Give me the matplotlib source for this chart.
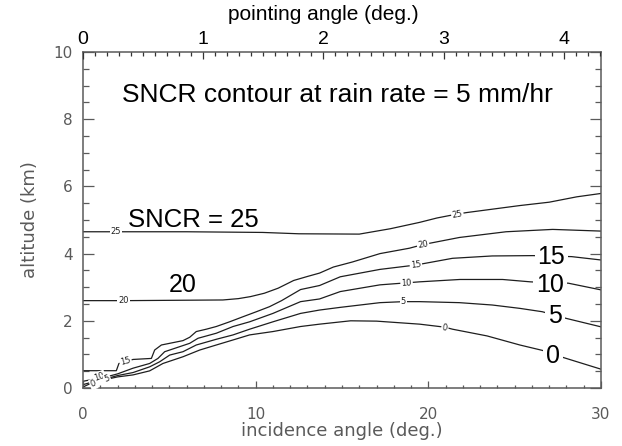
import matplotlib
matplotlib.use("Agg")
import matplotlib.pyplot as plt
from matplotlib.ticker import MultipleLocator

# ---------------- data ----------------
incidence_ticks = [0, 10, 20, 30]
altitude_ticks = [0, 2, 4, 6, 8, 10]
pointing_ticks = [0, 1, 2, 3, 4]
pointing_max = 4.31

c25_x = [0, 2.0, 6.0, 10.4, 12.5, 16.0, 17.8, 19.5, 20.5, 21.6, 22.2, 25.3, 27.0, 28.6, 30]
c25_y = [4.65, 4.65, 4.65, 4.63, 4.59, 4.58, 4.74, 4.93, 5.06, 5.17, 5.22, 5.43, 5.53, 5.69, 5.79]

c20_x = [0, 2.4, 8.1, 9.0, 9.7, 10.5, 11.3, 12.2, 13.0, 13.7, 14.5, 15.6, 17.2, 18.9, 19.7,
         21.8, 24.5, 27.2, 30]
c20_y = [2.6, 2.6, 2.62, 2.66, 2.72, 2.82, 2.97, 3.2, 3.32, 3.42, 3.6, 3.75, 4.0, 4.16, 4.27,
         4.48, 4.65, 4.72, 4.67]

c15_x = [0, 1.93, 2.08, 2.9, 3.96, 4.15, 4.54, 5.79, 6.18, 6.56, 7.14, 7.72, 8.49, 9.26,
         10.04, 10.8, 11.5, 12.1, 12.6, 13.7, 14.9, 17.2, 19.28, 21.4, 23.7, 26.06, 28.3, 30]
c15_y = [0.515, 0.515, 0.73, 0.85, 0.88, 1.13, 1.28, 1.41, 1.51, 1.68, 1.75, 1.83, 1.97, 2.12,
         2.27, 2.42, 2.6, 2.78, 2.93, 3.05, 3.31, 3.53, 3.66, 3.86, 3.93, 3.94, 3.91, 3.81]

c10_x = [0, 0.6, 1.2, 2.0, 2.9, 3.86, 4.34, 4.73, 5.6, 6.18, 6.66, 7.72, 8.69, 9.65, 11.0,
         12.6, 13.7, 14.9, 17.2, 18.74, 19.5, 21.83, 24.3, 25.9, 27.0, 28.1, 30]
c10_y = [0.2, 0.26, 0.31, 0.42, 0.59, 0.73, 0.88, 1.08, 1.23, 1.33, 1.48, 1.63, 1.83, 1.97, 2.22,
         2.57, 2.65, 2.87, 3.07, 3.13, 3.16, 3.23, 3.23, 3.16, 3.13, 3.12, 2.92]

c5_x = [0, 0.7, 1.3, 2.0, 2.9, 3.86, 4.44, 5.02, 5.79, 6.56, 7.72, 8.69, 9.65, 11.0, 12.6,
        13.7, 14.9, 17.2, 18.56, 19.5, 21.8, 23.7, 25.3, 26.6, 28.0, 30]
c5_y = [0.1, 0.2, 0.27, 0.37, 0.46, 0.63, 0.78, 0.98, 1.08, 1.28, 1.45, 1.58, 1.75, 1.97, 2.22,
        2.32, 2.4, 2.54, 2.57, 2.57, 2.54, 2.47, 2.37, 2.27, 2.07, 1.82]

c0_x = [0, 0.5, 1.2, 2.0, 2.9, 3.86, 4.63, 5.79, 6.76, 7.72, 8.69, 9.65, 11.0, 12.6, 13.7,
        15.5, 17.0, 19.5, 20.96, 21.4, 23.4, 25.3, 26.6, 27.8, 30]
c0_y = [0.03, 0.15, 0.24, 0.33, 0.39, 0.51, 0.73, 0.93, 1.13, 1.28, 1.43, 1.58, 1.68, 1.83, 1.9,
        2.0, 1.99, 1.9, 1.81, 1.75, 1.55, 1.28, 1.12, 0.91, 0.56]

contours = [(c25_x, c25_y), (c20_x, c20_y), (c15_x, c15_y),
            (c10_x, c10_y), (c5_x, c5_y), (c0_x, c0_y)]

# ---------------- figure ----------------
W, H = 622, 446
fig = plt.figure(figsize=(W / 100, H / 100), dpi=100)
ax = fig.add_axes([83 / W, 58 / H, 518 / W, 336 / H])
ax.set_xlim(0, 30)
ax.set_ylim(0, 10)

grey = "#5a5a5a"
line_col = "#1e1e1e"
helv = "Liberation Sans"

for cx, cy in contours:
    ax.plot(cx, cy, color=line_col, lw=0.9, zorder=2, solid_joinstyle="round")

small_box = dict(boxstyle="square,pad=0.12", fc="white", ec="none")
big_box = dict(boxstyle="square,pad=0.12", fc="white", ec="none")

small_labels = [("25", 1.91, 4.65, 0), ("20", 2.36, 2.6, 0), ("15", 2.46, 0.80, 15),
                ("10", 0.95, 0.33, 20), ("5", 1.4, 0.27, 20), ("0", 0.6, 0.12, 20),
                ("25", 21.68, 5.17, 10), ("20", 19.69, 4.28, 10), ("15", 19.28, 3.66, 7),
                ("10", 18.74, 3.13, 3), ("5", 18.56, 2.57, 0), ("0", 20.96, 1.80, -9)]
for t, x, y, r in small_labels:
    ax.text(x, y, t, fontsize=6, color="#222222", ha="center", va="center",
            rotation=r, rotation_mode="anchor", bbox=small_box, zorder=3,
            family="DejaVu Sans")

big_labels = [("15", 27.13, 3.69), ("10", 27.04, 2.87), ("5", 27.33, 1.93), ("0", 27.23, 0.73)]
for t, x, y in big_labels:
    ax.text(x, y, t, fontsize=18, family=helv, color="black", ha="center",
            va="baseline", bbox=big_box, zorder=4)

ax.text(5.76, 2.87, "20", fontsize=18, family=helv, ha="center", va="baseline", zorder=4)
ax.text(2.6, 4.80, "SNCR = 25", fontsize=18.5, family=helv, ha="left", va="baseline", zorder=4)
ax.text(2.24, 8.52, "SNCR contour at rain rate = 5 mm/hr", fontsize=19, family=helv,
        ha="left", va="baseline", zorder=4)

# ---------------- axes styling ----------------
for s in ax.spines.values():
    s.set_color(grey)
    s.set_linewidth(1.1)

ax.set_xticks(incidence_ticks)
ax.set_yticks(altitude_ticks)
ax.xaxis.set_minor_locator(MultipleLocator(1))
ax.yaxis.set_minor_locator(MultipleLocator(0.5))
ax.tick_params(axis="x", which="major", direction="in", length=5, width=0.9, color=grey,
               pad=13.5, labelsize=11, labelcolor=grey, top=False)
ax.tick_params(axis="x", which="minor", direction="in", length=2.5, width=0.9, color=grey,
               top=False)
ax.tick_params(axis="y", which="major", direction="in", length=8, width=0.9, color=grey,
               pad=7.5, labelsize=11, labelcolor=grey, right=True)
ax.tick_params(axis="y", which="minor", direction="in", length=4, width=0.9, color=grey,
               right=True)
for lab in ax.get_xticklabels() + ax.get_yticklabels():
    lab.set_family("DejaVu Sans")

ax.set_xlabel("incidence angle (deg.)", fontsize=13, color=grey, labelpad=0.5,
              family="DejaVu Sans")
ax.set_ylabel("altitude (km)", fontsize=13, color=grey, labelpad=10,
              family="DejaVu Sans")

ax2 = ax.twiny()
ax2.set_xlim(0, pointing_max)
ax2.set_xticks(pointing_ticks)
ax2.xaxis.set_minor_locator(MultipleLocator(0.1))
ax2.tick_params(axis="x", which="major", direction="in", length=5, width=0.9,
                color="#333333", pad=3, labelsize=14, labelcolor="black")
ax2.tick_params(axis="x", which="minor", direction="in", length=3, width=0.9,
                color="#333333")
for lab in ax2.get_xticklabels():
    lab.set_family(helv)
for s in ax2.spines.values():
    s.set_visible(False)

fig.text(323 / W, 1 - 20 / H, "pointing angle (deg.)", fontsize=15, family=helv,
         ha="center", va="baseline")

fig.savefig("out.png", dpi=100)
